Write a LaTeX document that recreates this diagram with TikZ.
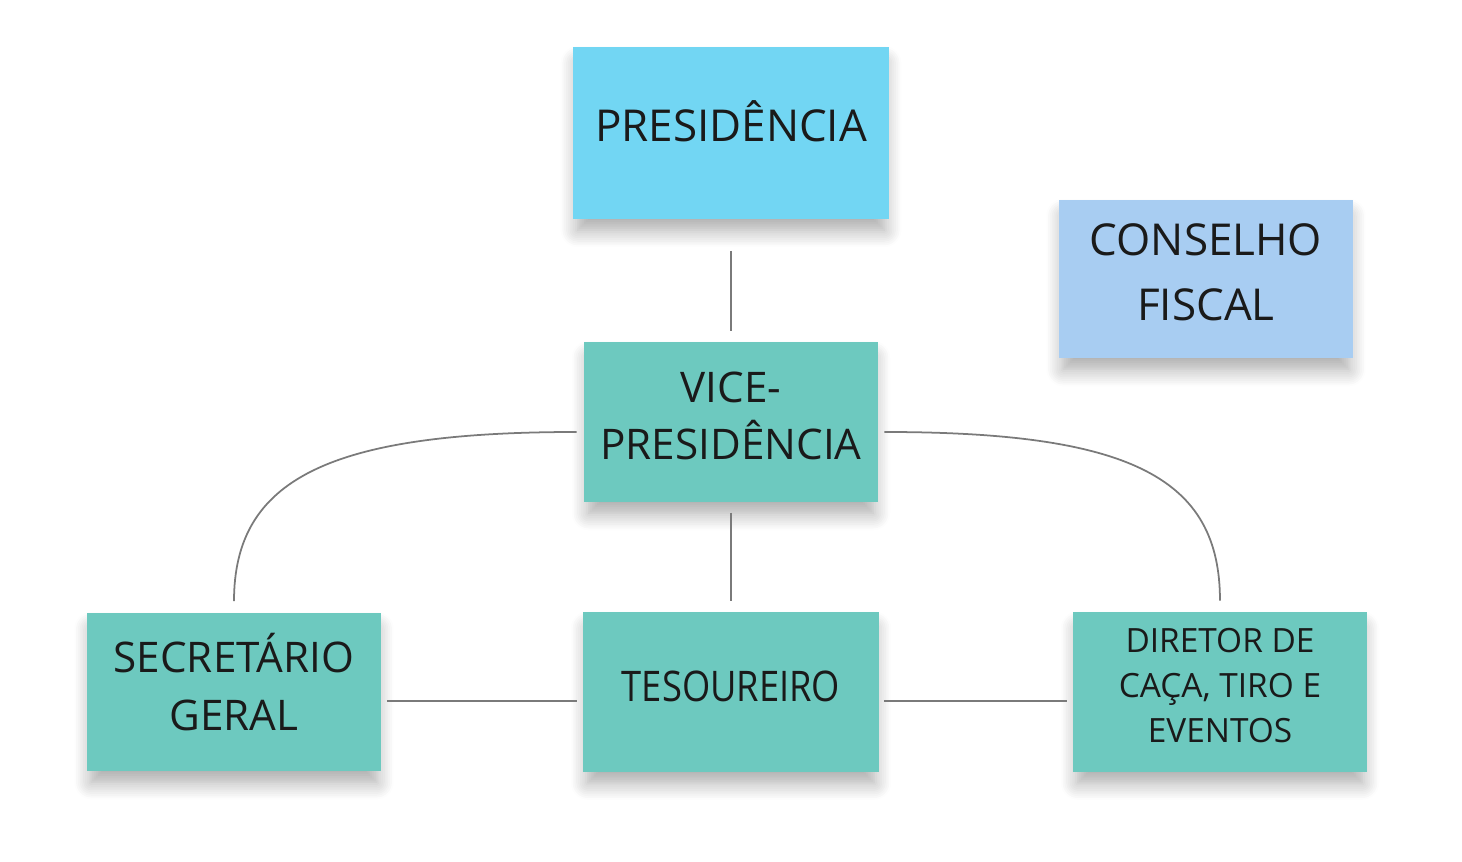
\documentclass[tikz,border=0pt]{standalone}
\usepackage{fontspec}
\setmainfont{Open Sans}
\usetikzlibrary{shadows.blur}

\definecolor{skyblue}{HTML}{72D6F3}
\definecolor{paleblue}{HTML}{A8CDF2}
\definecolor{teal}{HTML}{6DC9BF}
\definecolor{ink}{HTML}{1A1A1A}
\definecolor{wire}{HTML}{7A7A7A}

\begin{document}
\begin{tikzpicture}[x=0.01cm,y=-0.01cm]
    \useasboundingbox (0,0) rectangle (1462,862);
    % cards
    \begin{scope}[every node/.style={rectangle,fill=teal,inner sep=0pt,
            blur shadow={shadow xshift=0pt,shadow yshift=-4pt,shadow scale=0.97,
                shadow blur steps=10,shadow blur radius=5pt,shadow opacity=35}}]
        \node[fill=skyblue,minimum width=3.16cm,minimum height=1.72cm] (pres) at (731,133) {};
        \node[fill=paleblue,minimum width=2.94cm,minimum height=1.58cm] (cons) at (1206,279) {};
        \node[minimum width=2.93cm,minimum height=1.60cm] (vice) at (731,422) {};
        \node[minimum width=2.94cm,minimum height=1.58cm] (sec) at (234,692) {};
        \node[minimum width=2.95cm,minimum height=1.59cm] (tes) at (731,692) {};
        \node[minimum width=2.93cm,minimum height=1.59cm] (dir) at (1220,692) {};
    \end{scope}
    % texts
    \begin{scope}[every node/.style={align=center,text=ink,inner sep=0pt,
            font=\fontsize{12}{16.5}\selectfont}]
        \node[font=\fontsize{12.5}{18}\selectfont] (pres-t) at ([yshift=0.12cm]pres.center) {PRESIDÊNCIA};
        \node[font=\fontsize{12.5}{18.5}\selectfont] (cons-t) at ([yshift=0.065cm]cons.center) {CONSELHO\\FISCAL};
        \node[font=\fontsize{12}{16.3}\selectfont] (vice-t) at ([yshift=0.06cm]vice.center) {VICE-\\PRESIDÊNCIA};
        \node (sec-t) at ([yshift=0.10cm]sec.center) {SECRETÁRIO\\GERAL};
        \node (tes-t) at ([yshift=0.06cm]tes.center) {\scalebox{0.86}[1]{TESOUREIRO}};
        \node[font=\fontsize{9.5}{12.8}\selectfont] (dir-t) at ([yshift=0.06cm]dir.center) {DIRETOR DE\\CAÇA, TIRO E\\EVENTOS};
    \end{scope}
    % connectors
    \begin{scope}[every edge/.style={draw=wire,line width=0.5pt},
        conn/.style={draw=wire,line width=0.5pt}]
        \path (pres) edge[shorten <=0.31cm,shorten >=0.10cm] (vice);
        \path (vice) edge[shorten <=0.10cm,shorten >=0.11cm] (tes);
        \path ([yshift=-0.09cm]sec.east) edge[shorten <=0.05cm,shorten >=0.06cm] ([yshift=-0.09cm]tes.west);
        \path ([yshift=-0.09cm]tes.east) edge[shorten <=0.05cm,shorten >=0.06cm] ([yshift=-0.09cm]dir.west);
        \draw[conn] ([shift={(-0.07cm,-0.10cm)}]vice.west) .. controls +(-248,0) and +(0,-122) .. ([yshift=0.11cm]sec.north);
        \draw[conn] ([shift={(0.06cm,-0.10cm)}]vice.east) .. controls +(248,0) and +(0,-122) .. ([yshift=0.11cm]dir.north);
    \end{scope}
\end{tikzpicture}
\end{document}
